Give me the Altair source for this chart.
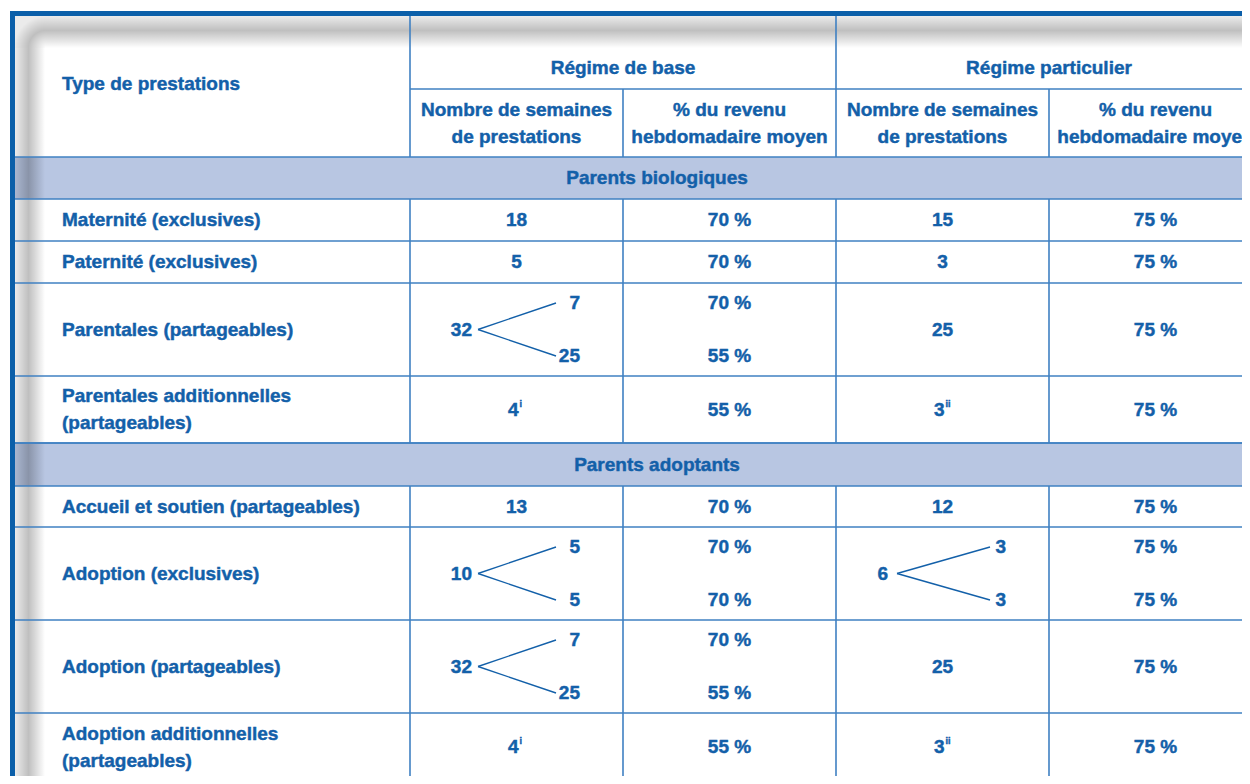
import altair as alt
import pandas as pd

# ---------------- data ----------------
type_header = "Type de prestations"
regimes = ["Régime de base", "Régime particulier"]
sub_headers = ["Nombre de semaines\nde prestations", "% du revenu\nhebdomadaire moyen"]
section_titles = ["Parents biologiques", "Parents adoptants"]

row_labels = [
    "Maternité (exclusives)",
    "Paternité (exclusives)",
    "Parentales (partageables)",
    "Parentales additionnelles\n(partageables)",
    "Accueil et soutien (partageables)",
    "Adoption (exclusives)",
    "Adoption (partageables)",
    "Adoption additionnelles\n(partageables)",
]

base_weeks = ["18", "5", "32", "4", "13", "10", "32", "4"]
base_weeks_split = [None, None, ["7", "25"], None, None, ["5", "5"], ["7", "25"], None]
base_pct = [["70 %"], ["70 %"], ["70 %", "55 %"], ["55 %"], ["70 %"], ["70 %", "70 %"], ["70 %", "55 %"], ["55 %"]]
base_note = ["", "", "", "i", "", "", "", "i"]

part_weeks = ["15", "3", "25", "3", "12", "6", "25", "3"]
part_weeks_split = [None, None, None, None, None, ["3", "3"], None, None]
part_pct = [["75 %"], ["75 %"], ["75 %"], ["75 %"], ["75 %"], ["75 %", "75 %"], ["75 %"], ["75 %"]]
part_note = ["", "", "", "ii", "", "", "", "ii"]

# ---------------- layout (page pixels) ----------------
W, H = 1234, 768
PX0, PY0 = 8, 8
FONT = "Liberation Sans Narrow, Arial Narrow, Liberation Sans, Arial, sans-serif"
TXT = "#1360a9"
GRID = "#3f80c2"
BORDER = "#0b5fa9"
BAND = "#b8c6e2"
FS = 19
LH = 27

col_edges = [12, 410, 623, 836, 1049, 1262]
col_centers = [(col_edges[i] + col_edges[i + 1]) / 2 for i in range(5)]
header_top, header_mid, header_bot = 13.5, 89, 157
band_bounds = [(157, 199), (443, 486)]
row_bounds = [(199, 241), (241, 283), (283, 376), (376, 443),
              (486, 527), (527, 620), (620, 713), (713, 781)]
branch_geom = {1: dict(total=62, l0=68, l1=146, sub=170),
               3: dict(total=52, l0=61, l1=154, sub=170)}
SPLIT = 26.5
LEFT_PAD = 62
BAND_TEXT_X = 657

xs = alt.Scale(domain=[PX0, PX0 + W], nice=False, zero=False)
ys = alt.Scale(domain=[PY0, PY0 + H], nice=False, zero=False, reverse=True)

# ---------------- build tables ----------------
texts = []  # x, y, text, align, size


def add(x, y, t, align="center", size=FS):
    n = t.count("\n") + 1
    texts.append(dict(x=x, y=y - (n - 1) * LH / 2, text=t, align=align, size=size))


add(LEFT_PAD, 84, type_header, "left")
add(col_edges[2], 68, regimes[0])
add(col_edges[4], 68, regimes[1])
for c in range(1, 5):
    add(col_centers[c], (header_mid + header_bot) / 2, sub_headers[(c - 1) % 2])
for (a, b), t in zip(band_bounds, section_titles):
    add(BAND_TEXT_X, (a + b) / 2, t)

branch_lines = []
for i, (a, b) in enumerate(row_bounds):
    cy = (a + b) / 2
    add(LEFT_PAD, cy, row_labels[i], "left")
    for c, weeks, split, pct, note in [
        (1, base_weeks, base_weeks_split, base_pct, base_note),
        (3, part_weeks, part_weeks_split, part_pct, part_note),
    ]:
        cx = col_centers[c]
        left = col_edges[c]
        if split[i]:
            g = branch_geom[c]
            add(left + g["total"], cy, weeks[i], "right")
            add(left + g["sub"], cy - SPLIT, split[i][0], "right")
            add(left + g["sub"], cy + SPLIT, split[i][1], "right")
            branch_lines.append(dict(x=left + g["l0"], x2=left + g["l1"], y=cy, y2=cy - SPLIT))
            branch_lines.append(dict(x=left + g["l0"], x2=left + g["l1"], y=cy, y2=cy + SPLIT))
        elif note[i]:
            add(cx + 2, cy, weeks[i], "right")
            add(cx + 3, cy - 6, note[i], "left", 9)
        else:
            add(cx, cy, weeks[i])
        pcx = col_centers[c + 1]
        if len(pct[i]) == 2:
            add(pcx, cy - SPLIT, pct[i][0])
            add(pcx, cy + SPLIT, pct[i][1])
        else:
            add(pcx, cy, pct[i][0])

text_df = pd.DataFrame(texts)

# grid lines
grid = []
grid.append(dict(x=col_edges[1], x2=1262, y=header_mid, y2=header_mid))
for a, b in band_bounds:
    grid.append(dict(x=12, x2=1262, y=a, y2=a))
    grid.append(dict(x=12, x2=1262, y=b, y2=b))
for a, b in row_bounds[:-1]:
    grid.append(dict(x=12, x2=1262, y=b, y2=b))
segments = [(band_bounds[0][1], band_bounds[1][0]), (band_bounds[1][1], 800)]
for c in [1, 3]:
    grid.append(dict(x=col_edges[c], x2=col_edges[c], y=header_top, y2=header_bot))
for c in [2, 4]:
    grid.append(dict(x=col_edges[c], x2=col_edges[c], y=header_mid, y2=header_bot))
for c in [1, 2, 3, 4]:
    for a, b in segments:
        grid.append(dict(x=col_edges[c], x2=col_edges[c], y=a, y2=b))
grid_df = pd.DataFrame(grid)

bands_df = pd.DataFrame([dict(x=14, x2=1262, y=a, y2=b) for a, b in band_bounds])

border_df = pd.DataFrame([
    dict(x=10, x2=1262, y=13.5, y2=13.5),
    dict(x=12.5, x2=12.5, y=11, y2=800),
])


def enc():
    return dict(
        x=alt.X("x:Q", scale=xs, axis=None),
        x2="x2:Q",
        y=alt.Y("y:Q", scale=ys, axis=None),
        y2="y2:Q",
    )


bands = alt.Chart(bands_df).mark_rect(color=BAND, clip=True).encode(**enc())


def stops(vals):
    return [alt.GradientStop(color=f"rgba(0,0,0,{a})", offset=o) for o, a in vals]


shadow_prof = [(0, 0.08), (0.45, 0.25), (1, 0)]
top_shadow = alt.Chart(pd.DataFrame([dict(x=45, x2=1262, y=16, y2=48)])).mark_rect(
    clip=True,
    color=alt.LinearGradient(gradient="linear", stops=stops(shadow_prof), x1=0, x2=0, y1=0, y2=1),
).encode(**enc())
left_shadow = alt.Chart(pd.DataFrame([dict(x=15, x2=45, y=48, y2=800)])).mark_rect(
    clip=True,
    color=alt.LinearGradient(gradient="linear", stops=stops(shadow_prof), x1=0, x2=1, y1=0, y2=0),
).encode(**enc())
corner_shadow = alt.Chart(pd.DataFrame([dict(x=15, x2=45, y=16, y2=48)])).mark_rect(
    clip=True,
    color=alt.RadialGradient(gradient="radial", stops=stops([(0, 0), (0.55, 0.25), (1, 0.08)]),
                             x1=1, y1=1, r1=0, x2=1, y2=1, r2=1),
).encode(**enc())

grid_layer = alt.Chart(grid_df).mark_rule(color=GRID, strokeWidth=1.6, clip=True).encode(**enc())
border_layer = alt.Chart(border_df).mark_rule(color=BORDER, strokeWidth=5, clip=True).encode(**enc())
branch_layer = alt.Chart(pd.DataFrame(branch_lines)).mark_rule(color=TXT, strokeWidth=1.4).encode(**enc())


def text_layer(align):
    d = text_df[text_df["align"] == align]
    return alt.Chart(d).mark_text(
        align=align, baseline="middle", font=FONT, fontWeight="bold", fill=TXT,
        stroke=TXT, strokeWidth=0.45,
        lineBreak="\n", lineHeight=LH, clip=True,
    ).encode(
        x=alt.X("x:Q", scale=xs, axis=None),
        y=alt.Y("y:Q", scale=ys, axis=None),
        text="text:N",
        size=alt.Size("size:Q", scale=None, legend=None),
    )


chart = alt.layer(
    bands, top_shadow, left_shadow, corner_shadow, grid_layer, branch_layer, border_layer,
    text_layer("left"), text_layer("center"), text_layer("right"),
).properties(
    width=W, height=H, padding=0, autosize=alt.AutoSizeParams(type="none"),
    background="white",
).configure_view(strokeOpacity=0)

chart.save("out.html", embed_options={"renderer": "svg", "actions": False})
